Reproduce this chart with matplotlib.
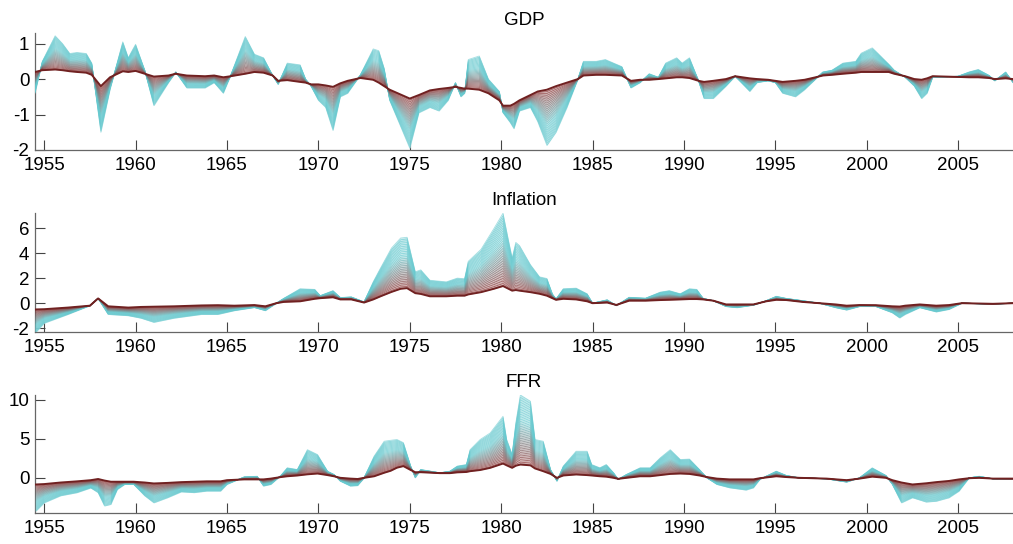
import numpy as np
import matplotlib.pyplot as plt

plt.rcParams['font.family'] = ['Liberation Sans', 'DejaVu Sans']
plt.rcParams['axes.unicode_minus'] = False

# GDP: годы, внутренняя (тёмно-красная) и внешняя (бирюзовая) граница веера
gdp_years = [1954.5, 1954.9, 1955.6, 1956.0, 1956.4, 1956.8, 1957.3, 1957.6, 1958.1, 1958.6,
             1959.3, 1959.6, 1960.0, 1960.5, 1961.0, 1961.8, 1962.2, 1962.8, 1963.8, 1964.3,
             1964.8, 1965.2, 1966.0, 1966.5, 1967.0, 1967.5, 1967.8, 1968.3, 1969.0, 1969.3,
             1969.6, 1970.0, 1970.4, 1970.8, 1971.2, 1971.6, 1972.3, 1973.0, 1973.3, 1973.6,
             1973.9, 1975.0, 1975.5, 1976.1, 1976.6, 1977.1, 1977.5, 1977.8, 1978.0, 1978.2,
             1978.8, 1979.3, 1979.9, 1980.1, 1980.5, 1980.7, 1981.0, 1981.6, 1982.0, 1982.5,
             1983.0, 1983.6, 1984.2, 1984.5, 1985.2, 1985.7, 1986.6, 1987.1, 1987.6, 1988.1,
             1988.6, 1989.0, 1989.6, 1989.9, 1990.3, 1990.8, 1991.1, 1991.6, 1992.3, 1992.8,
             1993.6, 1994.0, 1994.6, 1995.0, 1995.4, 1996.1, 1996.6, 1997.2, 1997.6, 1998.1,
             1998.7, 1999.4, 1999.7, 2000.3, 2000.6, 2001.2, 2001.5, 2002.1, 2002.6, 2003.0,
             2003.3, 2003.6, 2005.0, 2005.6, 2006.1, 2006.7, 2007.0, 2007.6, 2008.0]
gdp_outer = [-0.4, 0.5, 1.22, 1.0, 0.72, 0.75, 0.72, 0.45, -1.5, -0.3,
             1.05, 0.6, 0.98, 0.25, -0.75, -0.1, 0.2, -0.25, -0.25, -0.1,
             -0.4, 0.1, 1.2, 0.7, 0.6, 0.1, -0.15, 0.45, 0.4, 0.0,
             -0.2, -0.6, -0.8, -1.45, -0.5, -0.4, 0.12, 0.85, 0.8, 0.3,
             -0.6, -1.95, -0.95, -0.8, -0.9, -0.6, -0.1, -0.5, -0.4, 0.55,
             0.65, 0.0, -0.35, -0.95, -1.23, -1.4, -0.9, -0.8, -1.2, -1.87,
             -1.5, -0.8, 0.0, 0.5, 0.5, 0.55, 0.35, -0.25, -0.1, 0.15,
             0.05, 0.45, 0.6, 0.45, 0.6, -0.05, -0.55, -0.55, -0.2, 0.08,
             -0.35, -0.1, -0.05, -0.1, -0.4, -0.5, -0.3, 0.0, 0.2, 0.25,
             0.45, 0.5, 0.73, 0.88, 0.73, 0.42, 0.25, 0.05, -0.2, -0.55,
             -0.4, 0.05, 0.08, 0.2, 0.27, 0.1, -0.05, 0.2, -0.1]
gdp_base = [0.2, 0.25, 0.27, 0.25, 0.22, 0.2, 0.18, 0.12, -0.2, 0.05,
            0.22, 0.2, 0.23, 0.15, 0.07, 0.1, 0.15, 0.1, 0.08, 0.1,
            0.05, 0.08, 0.15, 0.2, 0.18, 0.1, -0.05, -0.03, -0.08, -0.1,
            -0.15, -0.15, -0.18, -0.22, -0.12, -0.05, 0.03, -0.02, -0.1, -0.2,
            -0.3, -0.55, -0.45, -0.32, -0.28, -0.25, -0.22, -0.25, -0.27, -0.27,
            -0.3, -0.4, -0.6, -0.75, -0.75, -0.7, -0.6, -0.45, -0.35, -0.3,
            -0.2, -0.1, 0.0, 0.1, 0.12, 0.12, 0.1, -0.05, -0.02, -0.02,
            0.0, 0.02, 0.05, 0.05, 0.03, -0.05, -0.08, -0.05, 0.0, 0.08,
            0.02, 0.0, -0.02, -0.05, -0.08, -0.05, -0.02, 0.05, 0.1, 0.12,
            0.15, 0.18, 0.2, 0.2, 0.2, 0.2, 0.15, 0.08, 0.0, -0.02,
            0.02, 0.08, 0.06, 0.05, 0.05, 0.03, 0.0, 0.02, 0.0]

# Inflation
inf_years = [1954.5, 1955.0, 1956.3, 1957.5, 1957.95, 1958.5, 1959.6, 1960.3, 1961.0, 1962.1,
             1963.6, 1964.5, 1965.4, 1966.5, 1967.1, 1967.7, 1968.1, 1969.0, 1969.8, 1970.1,
             1970.8, 1971.2, 1971.8, 1972.5, 1973.0, 1973.4, 1974.0, 1974.5, 1974.85, 1975.3,
             1975.6, 1976.1, 1977.0, 1977.6, 1978.0, 1978.2, 1978.9, 1979.6, 1980.1, 1980.4,
             1980.6, 1980.8, 1981.0, 1981.6, 1982.1, 1982.5, 1982.8, 1983.0, 1983.4, 1984.1,
             1984.7, 1985.0, 1985.8, 1986.3, 1987.0, 1987.9, 1988.7, 1989.2, 1989.8, 1990.3,
             1990.7, 1991.05, 1991.6, 1992.3, 1992.9, 1993.8, 1994.5, 1995.05, 1995.6, 1996.5,
             1997.4, 1998.3, 1998.9, 1999.6, 2000.5, 2001.4, 2001.8, 2002.1, 2002.9, 2003.8,
             2004.5, 2005.2, 2006.9, 2008.0]
inf_outer = [-2.4, -1.6, -0.9, -0.2, 0.38, -0.9, -1.0, -1.2, -1.53, -1.2,
             -0.9, -0.9, -0.6, -0.35, -0.6, 0.0, 0.38, 1.15, 1.1, 0.6,
             1.0, 0.45, 0.5, 0.1, 1.7, 2.8, 4.4, 5.2, 5.26, 2.5,
             2.66, 1.83, 1.7, 2.0, 1.95, 3.34, 4.3, 5.95, 7.18, 5.0,
             3.6, 4.85, 4.6, 3.07, 2.1, 1.97, 0.74, 0.33, 1.15, 1.2,
             0.75, 0.0, 0.27, -0.2, 0.47, 0.4, 0.88, 1.0, 0.75, 1.15,
             1.1, 0.38, 0.2, -0.27, -0.36, -0.16, 0.2, 0.55, 0.38, 0.2,
             0.0, -0.36, -0.55, -0.27, -0.27, -0.77, -1.18, -0.9, -0.36, -0.7,
             -0.5, 0.0, -0.08, 0.0]
inf_base = [-0.5, -0.48, -0.35, -0.2, 0.38, -0.25, -0.35, -0.3, -0.28, -0.25,
            -0.18, -0.16, -0.2, -0.15, -0.25, 0.0, 0.1, 0.15, 0.35, 0.4,
            0.47, 0.3, 0.3, 0.05, 0.3, 0.55, 0.9, 1.15, 1.2, 0.8,
            0.74, 0.55, 0.55, 0.6, 0.6, 0.7, 0.88, 1.15, 1.37, 1.15,
            1.0, 1.05, 1.0, 0.88, 0.75, 0.6, 0.4, 0.27, 0.35, 0.3,
            0.15, 0.0, 0.05, -0.14, 0.2, 0.2, 0.25, 0.27, 0.3, 0.33,
            0.33, 0.3, 0.2, -0.1, -0.1, -0.1, 0.15, 0.27, 0.25, 0.1,
            0.0, -0.1, -0.2, -0.15, -0.16, -0.25, -0.27, -0.2, -0.1, -0.2,
            -0.15, 0.0, -0.05, 0.0]

# FFR
ffr_years = [1954.55, 1955.0, 1955.9, 1956.8, 1957.55, 1957.95, 1958.3, 1958.65, 1959.0, 1959.4,
             1959.9, 1960.5, 1961.0, 1961.75, 1962.5, 1963.2, 1963.9, 1964.65, 1965.0, 1965.95,
             1966.65, 1967.0, 1967.4, 1967.95, 1968.3, 1968.85, 1969.4, 1969.95, 1970.5, 1970.85,
             1971.2, 1971.75, 1972.15, 1972.5, 1973.05, 1973.6, 1973.95, 1974.3, 1974.65, 1975.05,
             1975.3, 1975.6, 1976.65, 1977.2, 1977.6, 1978.1, 1978.3, 1978.85, 1979.4, 1980.1,
             1980.3, 1980.6, 1980.8, 1981.05, 1981.6, 1981.85, 1982.3, 1982.7, 1983.05, 1983.4,
             1984.1, 1984.7, 1984.95, 1985.4, 1985.75, 1986.15, 1986.4, 1986.85, 1987.6, 1988.15,
             1988.7, 1989.25, 1989.8, 1990.3, 1990.85, 1991.25, 1991.8, 1992.5, 1993.4, 1993.8,
             1994.15, 1995.05, 1995.6, 1996.3, 1997.8, 1998.9, 1999.6, 2000.3, 2001.05, 2001.4,
             2001.9, 2002.5, 2003.25, 2003.8, 2004.5, 2005.05, 2005.6, 2006.15, 2006.9, 2008.0]
ffr_outer = [-4.25, -3.2, -2.3, -1.9, -1.3, -1.9, -3.6, -3.4, -1.5, -0.85,
             -0.85, -2.3, -3.2, -2.55, -1.8, -1.9, -1.7, -1.7, -0.85, 0.13,
             0.2, -1.06, -0.85, 0.3, 1.28, 1.06, 3.6, 2.98, 0.85, 0.43,
             -0.43, -1.06, -1.0, 0.0, 2.77, 4.68, 4.8, 4.9, 4.5, 1.5,
             0.0, 1.06, 0.64, 0.85, 1.5, 1.7, 3.6, 4.9, 5.74, 7.87,
             4.9, 2.98, 7.0, 10.6, 9.8, 4.9, 4.68, 1.06, -0.43, 1.5,
             3.4, 3.4, 1.7, 1.28, 1.7, 0.64, -0.2, 0.43, 1.28, 1.28,
             2.55, 3.6, 2.34, 2.4, 1.06, 0.0, -0.85, -1.28, -1.57, -1.28,
             -0.2, 0.85, 0.3, 0.0, -0.13, -0.55, 0.0, 1.28, 0.3, -0.85,
             -3.2, -2.55, -3.1, -3.0, -2.55, -1.7, 0.0, 0.2, -0.13, -0.2]
ffr_base = [-0.85, -0.8, -0.6, -0.45, -0.3, -0.15, -0.35, -0.5, -0.5, -0.5,
            -0.5, -0.6, -0.72, -0.65, -0.55, -0.5, -0.45, -0.45, -0.3, -0.2,
            -0.2, -0.2, -0.1, 0.1, 0.2, 0.3, 0.45, 0.55, 0.35, 0.2,
            0.0, -0.1, -0.15, 0.0, 0.2, 0.65, 0.9, 1.3, 1.5, 1.0,
            0.72, 0.72, 0.6, 0.6, 0.7, 0.75, 0.85, 1.0, 1.28, 1.83,
            1.6, 1.28, 1.55, 1.7, 1.6, 1.2, 0.85, 0.5, 0.0, 0.3,
            0.43, 0.35, 0.3, 0.2, 0.15, 0.0, -0.13, 0.0, 0.2, 0.2,
            0.35, 0.5, 0.55, 0.5, 0.3, 0.1, -0.1, -0.2, -0.2, -0.2,
            -0.05, 0.2, 0.1, 0.0, -0.1, -0.3, -0.1, 0.15, 0.0, -0.3,
            -0.6, -0.85, -0.7, -0.55, -0.4, -0.2, -0.05, 0.0, -0.1, -0.1]

titles = ['GDP', 'Inflation', 'FFR']
xtick_years = [1955, 1960, 1965, 1970, 1975, 1980, 1985, 1990, 1995, 2000, 2005]

red = np.array([0.55, 0.16, 0.16])
cyan = np.array([0.40, 0.79, 0.81])
white = np.array([1.0, 1.0, 1.0])

fig = plt.figure(figsize=(10.13, 5.44), dpi=100)

# положения осей: [left, bottom, width, height]
positions = [[0.0346, 0.7243, 0.9654, 0.2151],
             [0.0346, 0.3897, 0.9654, 0.2188],
             [0.0346, 0.0570, 0.9654, 0.2169]]
ylims = [(-2, 1.3), (-2.3, 7.2), (-4.5, 10.6)]
yticks = [[-2, -1, 0, 1], [-2, 0, 2, 4, 6], [0, 5, 10]]

panels = [(gdp_years, gdp_base, gdp_outer),
          (inf_years, inf_base, inf_outer),
          (ffr_years, ffr_base, ffr_outer)]

n_lines = 30
for p in range(3):
    ax = fig.add_axes(positions[p])
    x = np.array(panels[p][0])
    base = np.array(panels[p][1])
    outer = np.array(panels[p][2])

    # веер: от бирюзового края к тёмно-красной середине
    for k in range(n_lines - 1, 0, -1):
        f1 = k / (n_lines - 1)
        f0 = (k - 1) / (n_lines - 1)
        y1 = base + f1 * (outer - base)
        y0 = base + f0 * (outer - base)
        t = min(1.0, f1 / 0.65)
        c = red * (1 - t) + cyan * t
        cf = c * 0.4 + white * 0.6
        ax.fill_between(x, y0, y1, color=cf, lw=0, zorder=2)
        ax.plot(x, y1, color=c, lw=0.6, alpha=0.6, zorder=3)
    ax.plot(x, base, color=red * 0.8, lw=1.4, zorder=4)

    ax.set_xlim(1954.5, 2008)
    ax.set_ylim(ylims[p])
    ax.set_xticks(xtick_years)
    ax.set_yticks(yticks[p])
    ax.set_title(titles[p], fontsize=13.5, pad=6)
    ax.tick_params(direction='in', length=7, width=0.8, color='#444444',
                   labelsize=13.5, top=False, right=False)
    ax.tick_params(axis='x', pad=5)
    ax.tick_params(axis='y', pad=4)
    for side in ['top', 'right']:
        ax.spines[side].set_visible(False)
    for side in ['left', 'bottom']:
        ax.spines[side].set_color('#666666')
        ax.spines[side].set_linewidth(0.9)
    ax.patch.set_alpha(0)

plt.savefig('out.png', dpi=100)
